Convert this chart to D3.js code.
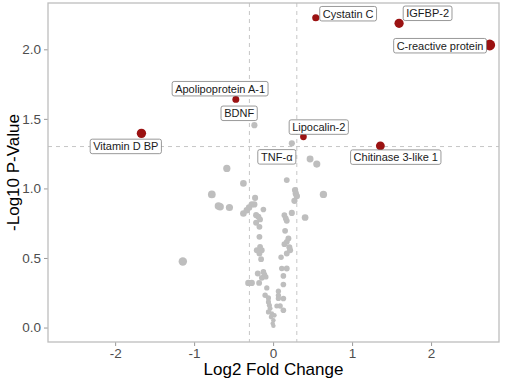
<!DOCTYPE html>
<html><head><meta charset="utf-8">
<script src="https://cdn.jsdelivr.net/npm/d3@7"></script>
<style>body{margin:0;background:#fff}svg{display:block}text{font-family:"Liberation Sans",Arial,Helvetica,sans-serif}</style>
</head><body>
<svg id="c" width="505" height="380"></svg>
<script>
// Non-significant proteins (grey)
const greyFC = [-1.143,-0.776,-0.692,-0.671,-0.553,-0.586,-0.376,-0.376,-0.333,-0.304,-0.270,-0.237,-0.228,
 0.468,0.553,0.173,0.278,0.287,0.300,0.270,0.637,0.405,0.237,-0.123,-0.215,-0.186,-0.165,-0.215,-0.173,
 0.143,0.161,0.173,0.152,-0.173,0.194,0.173,0.143,0.206,0.173,0.215,-0.206,-0.165,-0.143,-0.173,-0.152,
 0.101,0.110,0.173,0.130,-0.194,-0.123,-0.110,-0.092,-0.143,-0.313,-0.270,-0.177,-0.080,0.130,-0.101,-0.059,
 0.067,0.067,0.067,0.130,-0.059,-0.047,-0.038,-0.059,0.089,0.047,0.130,-0.016,0.016,-0.025,0.004,-0.005,0.004];
const greyP = [0.475,0.957,0.873,0.869,0.863,1.144,1.036,0.820,0.844,0.863,0.885,0.885,0.932,
 1.211,1.175,1.060,0.988,0.964,0.945,0.911,0.957,0.791,0.824,0.849,0.808,0.796,0.777,0.753,0.724,
 0.808,0.784,0.767,0.695,0.652,0.640,0.616,0.599,0.578,0.532,0.556,0.556,0.580,0.556,0.532,0.491,
 0.506,0.424,0.424,0.371,0.388,0.400,0.381,0.364,0.357,0.321,0.321,0.321,0.285,0.309,0.232,0.213,
 0.261,0.232,0.209,0.209,0.184,0.160,0.137,0.112,0.155,0.155,0.124,0.101,0.088,0.076,0.053,0.029,0.012];

// Labelled proteins
const labNames = ["Cystatin C","IGFBP-2","C-reactive protein","Apolipoprotein A-1","BDNF","Vitamin D BP","Lipocalin-2","TNF-\u03b1","Chitinase 3-like 1"];
const labFC    = [0.540, 1.595, 2.743, -0.472, -0.237, -1.667, 0.384, 0.237, 1.358];
const labP     = [2.227, 2.187, 2.031, 1.640, 1.455, 1.396, 1.371, 1.324, 1.306];
const labSig   = [true, true, true, true, false, true, true, false, true];
// label box centres (data units, from ggrepel layout)
const labBoxFC = [0.95, 1.956, 2.114, -0.671, -0.430, -1.865, 0.578, 0.047, 1.553];
const labBoxP  = [2.256, 2.259, 2.026, 1.717, 1.540, 1.302, 1.441, 1.227, 1.225];

const xTicks = [-2,-1,0,1,2];
const yTicks = [0.0,0.5,1.0,1.5,2.0];
const fcCut = 0.3, pCut = -Math.log10(0.05);

const svg = d3.select("#c");
const L=48, R=499, T=3, B=342;
const x = d3.scaleLinear().domain([-2.85,2.86]).range([L,R]);
const y = d3.scaleLinear().domain([-0.104,2.333]).range([B,T]);
const allFC = greyFC.concat(labFC).map(Math.abs);
const r = d3.scaleSqrt().domain([0,d3.max(allFC)]).range([2.1,5.4]);

// threshold lines
const dash = svg.append("g").attr("stroke","#c6c6c6").attr("stroke-width",1).attr("stroke-dasharray","4,4");
[-fcCut,fcCut].forEach(v=>dash.append("line").attr("x1",x(v)).attr("x2",x(v)).attr("y1",T).attr("y2",B));
dash.append("line").attr("x1",L).attr("x2",R).attr("y1",y(pCut)).attr("y2",y(pCut));

// axes
const xa = svg.append("g").attr("transform",`translate(0,${B})`)
  .call(d3.axisBottom(x).tickValues(xTicks).tickSize(4).tickPadding(2).tickFormat(d3.format("d")));
const ya = svg.append("g").attr("transform",`translate(${L},0)`)
  .call(d3.axisLeft(y).tickValues(yTicks).tickSize(4).tickPadding(3).tickFormat(d3.format(".1f")));
[xa,ya].forEach(a=>{a.select(".domain").remove();
  a.selectAll(".tick line").attr("stroke","#9a9a9a");
  a.selectAll(".tick text").attr("fill","#4d4d4d").style("font-size","13.5px").style("font-family","Liberation Sans, Arial, sans-serif");});
xa.selectAll(".tick text").text(d=>d<0?"-"+Math.abs(d):d);

svg.append("rect").attr("x",L).attr("y",T).attr("width",R-L).attr("height",B-T)
  .attr("fill","none").attr("stroke","#bdbdbd").attr("stroke-width",1.3);

// grey points
const gpts = greyFC.map((v,i)=>({fc:v,p:greyP[i]}));
svg.append("g").selectAll("circle").data(gpts).join("circle")
  .attr("cx",d=>x(d.fc)).attr("cy",d=>y(d.p)).attr("r",d=>r(Math.abs(d.fc))).attr("fill","#bebebe");
// labelled points
const lpts = labNames.map((n,i)=>({n,fc:labFC[i],p:labP[i],sig:labSig[i],bx:labBoxFC[i],by:labBoxP[i]}));
svg.append("g").selectAll("circle").data(lpts).join("circle")
  .attr("cx",d=>x(d.fc)).attr("cy",d=>y(d.p)).attr("r",d=>r(Math.abs(d.fc)))
  .attr("fill",d=>d.sig?"#9b1212":"#bebebe");

// labels
const lg = svg.append("g");
lpts.forEach(d=>{
  const g = lg.append("g").attr("transform",`translate(${x(d.bx)},${y(d.by)})`);
  const rect = g.append("rect");
  const t = g.append("text").attr("text-anchor","middle").attr("dy","0.36em")
    .style("font-size","11px").attr("fill","#1a1a1a").text(d.n);
  const bb = t.node().getBBox();
  const w = bb.width+6, h = 14.5;
  rect.attr("x",-w/2).attr("y",-h/2).attr("width",w).attr("height",h).attr("rx",2)
    .attr("fill","#fff").attr("stroke","#7f7f7f").attr("stroke-width",0.8);
});

// titles
svg.append("text").attr("x",(L+R)/2).attr("y",375).attr("text-anchor","middle")
  .style("font-size","17px").attr("fill","#000").text("Log2 Fold Change");
svg.append("text").attr("transform",`translate(19,${(T+B)/2}) rotate(-90)`).attr("text-anchor","middle")
  .style("font-size","17px").attr("fill","#000").text("-Log10 P-Value");
</script>
</body></html>
